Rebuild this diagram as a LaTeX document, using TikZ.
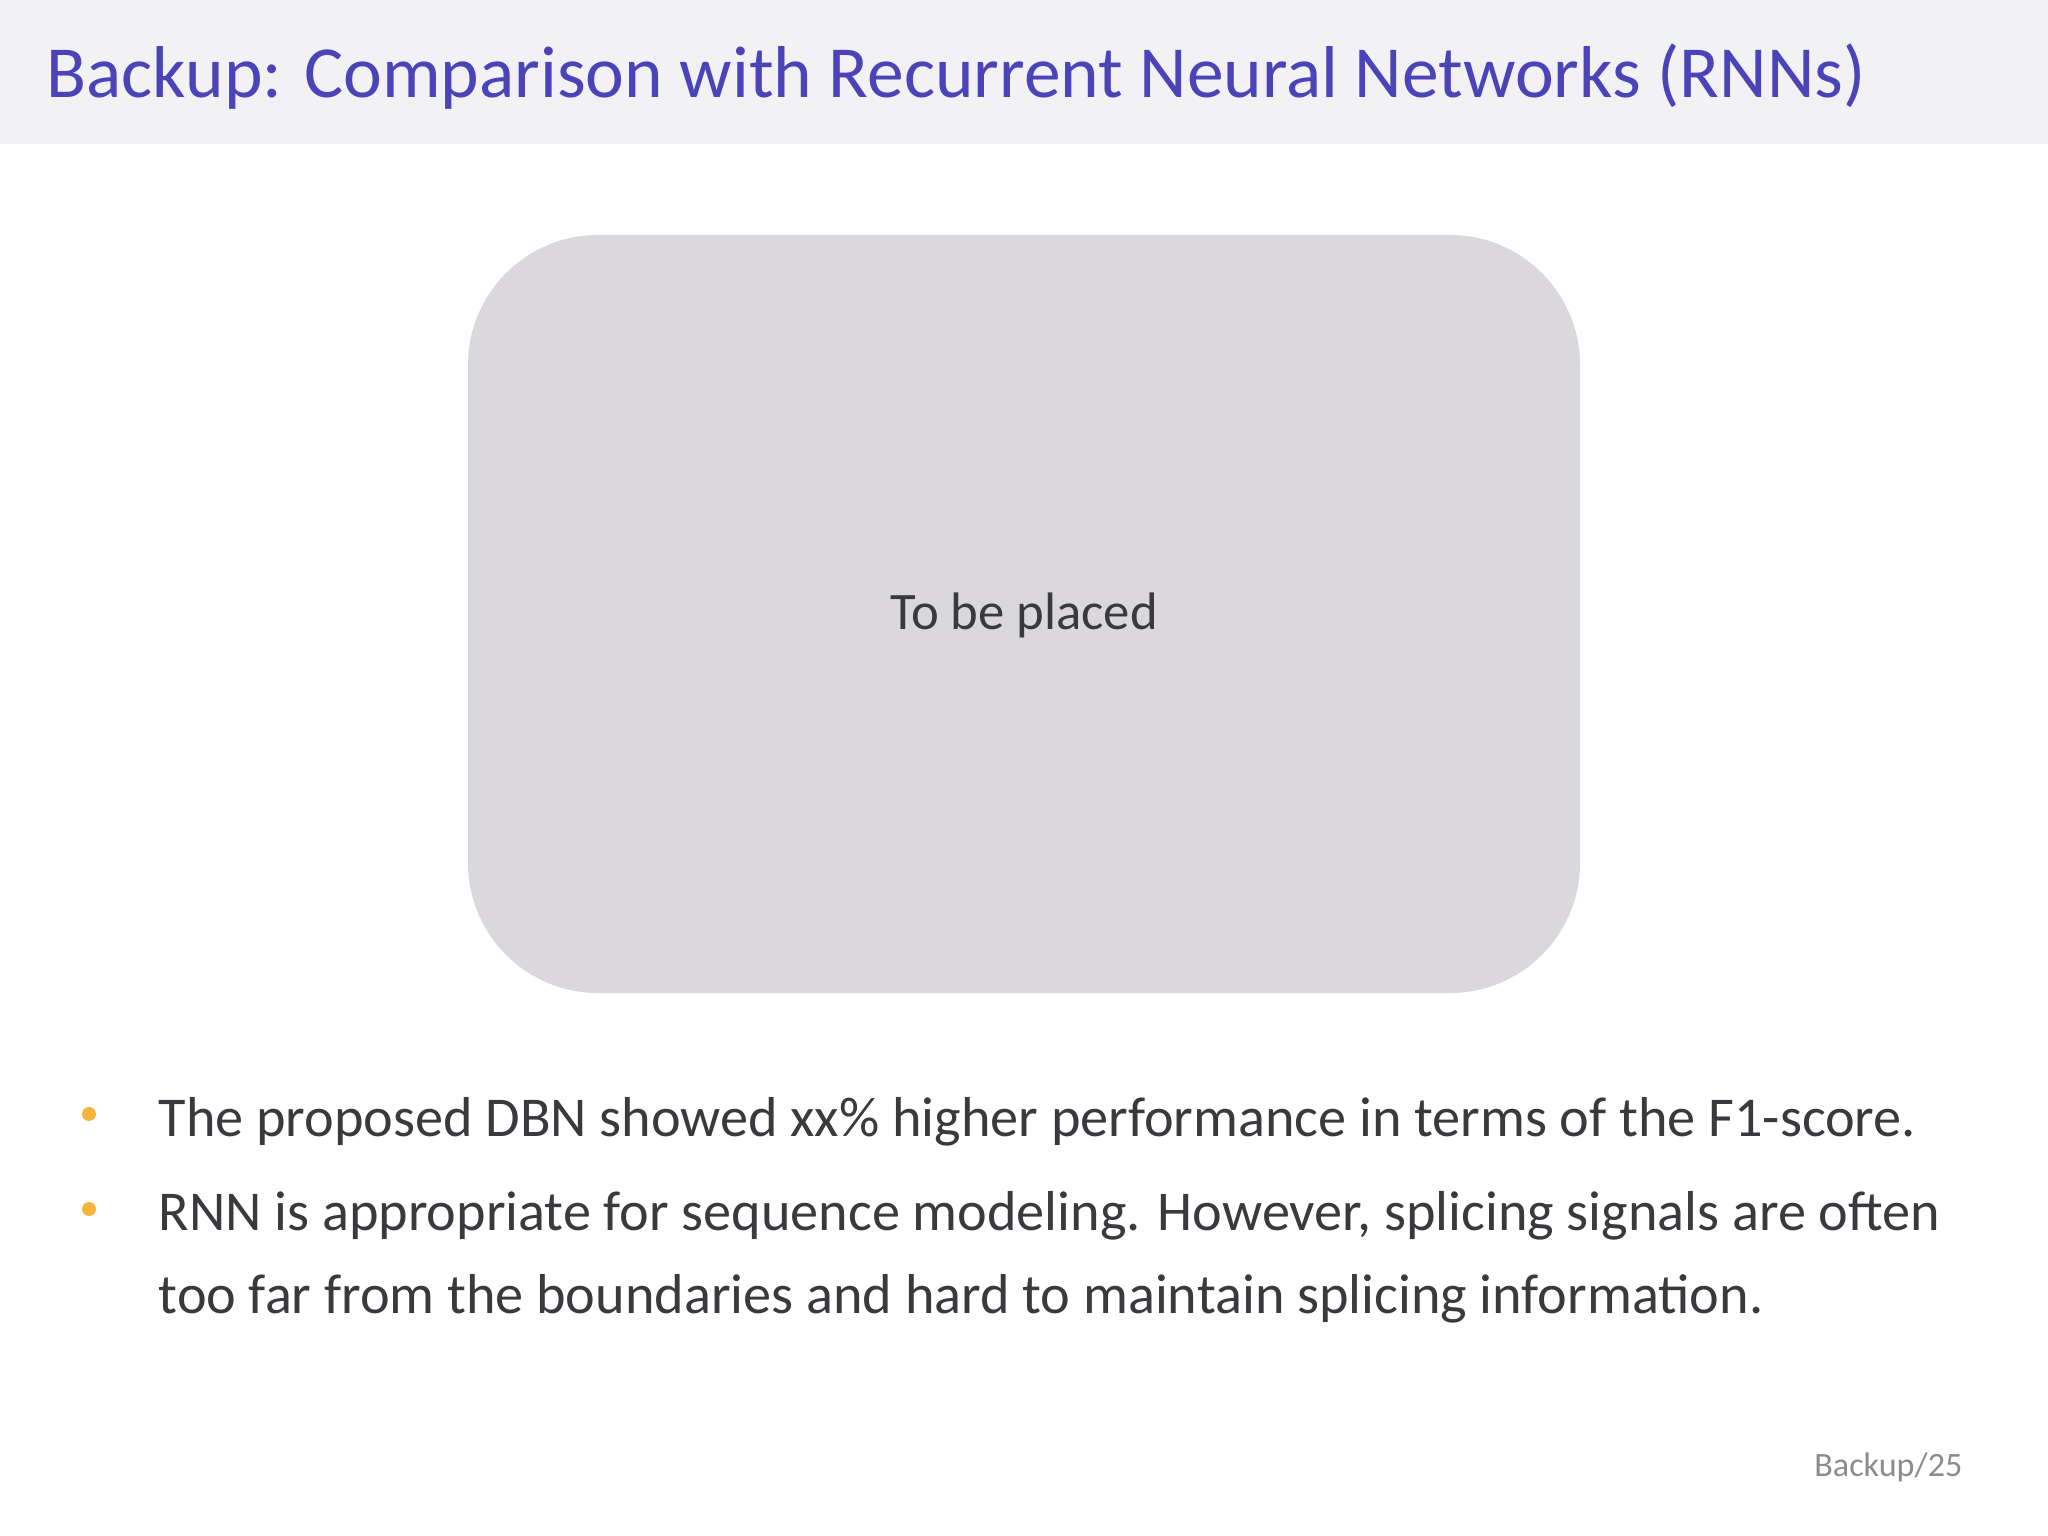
\documentclass[tikz,border=0pt]{standalone}
\usepackage{fontspec}
\setmainfont{Carlito}
\definecolor{titlec}{HTML}{4B44B8}
\definecolor{bandc}{HTML}{F2F2F4}
\definecolor{boxc}{HTML}{DAD8DC}
\definecolor{txtc}{HTML}{3A3A3E}
\definecolor{bulc}{HTML}{F5B43C}
\begin{document}
\begin{tikzpicture}[x=1cm,y=1cm,
  body/.style={anchor=base west,inner sep=0pt,text=txtc,font=\fontsize{16}{19}\selectfont},
  bul/.style={circle,fill=bulc,inner sep=0pt,minimum size=0.14cm}]
\useasboundingbox (0,0) rectangle (20.48,-15.36);
\fill[white] (0,0) rectangle (20.48,-15.36);
\fill[bandc] (0,0) rectangle (20.48,-1.44);
\node[anchor=base west,inner sep=0pt,text=titlec,font=\fontsize{20.9}{25}\selectfont] (title) at (0.46,-0.98) {Backup: Comparison with Recurrent Neural Networks (RNNs)};
\node[fill=boxc,rounded corners=1.3cm,minimum width=11.12cm,minimum height=7.58cm,inner sep=0pt] (box) at (10.24,-6.14) {};
\node[text=txtc,font=\fontsize{15}{18}\selectfont] (tbp) at (10.24,-6.15) {To be placed};
\node[bul] (b1) at (0.89,-11.14) {};
\node[bul] (b2) at (0.89,-12.09) {};
\node[body] (t1) at (1.58,-11.36) {The proposed DBN showed xx\% higher performance in terms of the F1-score.};
\node[body] (t2) at (1.58,-12.30) {RNN is appropriate for sequence modeling. However, splicing signals are often};
\node[body] (t3) at (1.58,-13.13) {too far from the boundaries and hard to maintain splicing information.};
\node[anchor=base east,inner sep=0pt,text=gray!90,font=\fontsize{9.7}{12}\selectfont] (foot) at (19.63,-14.76) {Backup/25};
\end{tikzpicture}
\end{document}
